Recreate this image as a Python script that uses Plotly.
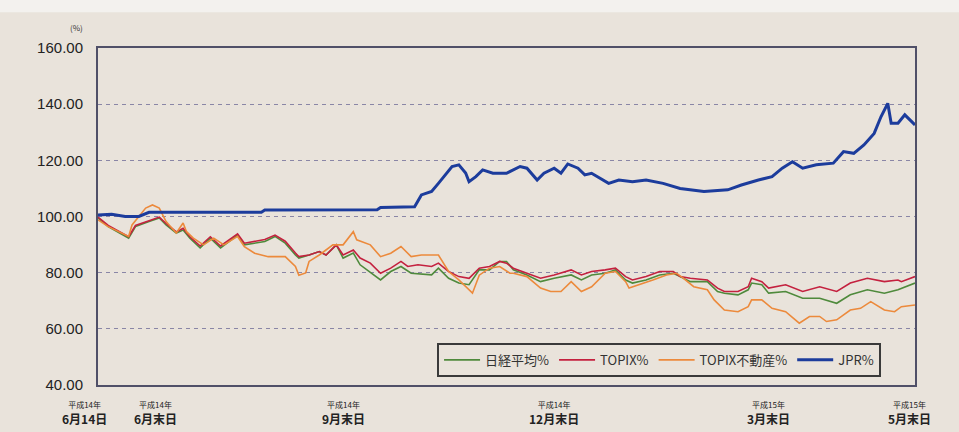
import plotly.graph_objects as go

# ---- data (x = trading-day index from 2002-06-14) ----
jpr_x = [0, 4, 8, 12, 15, 48, 49, 59, 82, 83, 93, 95, 98, 100, 103, 104, 106, 108, 109, 111,
         113, 116, 120, 124, 126, 129, 131, 134, 136, 138, 141, 143, 145, 150, 153, 157, 161,
         166, 171, 178, 185, 189, 194, 198, 201, 204, 207, 211, 216, 219, 222, 225, 228, 230,
         232, 233, 235, 237, 240]
jpr_y = [100.5, 100.8, 100.0, 100.0, 101.5, 101.5, 102.3, 102.4, 102.4, 103.2, 103.5, 107.7,
         108.9, 111.8, 116.6, 117.8, 118.4, 115.5, 112.4, 114.2, 116.6, 115.4, 115.4, 117.8,
         117.2, 113.0, 115.4, 117.2, 115.4, 118.7, 117.2, 114.8, 115.4, 111.8, 113.0, 112.4,
         113.0, 111.8, 110.0, 108.9, 109.5, 111.2, 113.0, 114.2, 117.2, 119.5, 117.2, 118.4,
         119.0, 123.1, 122.5, 125.5, 129.6, 135.5, 140.3, 133.2, 133.2, 136.2, 132.6]

nikkei_x = [0, 3, 9, 11, 15, 18, 20, 23, 25, 27, 30, 33, 36, 41, 43, 46, 49, 52, 55, 58, 59,
            62, 65, 67, 70, 72, 75, 77, 83, 86, 89, 92, 98, 100, 103, 106, 109, 112, 115, 118,
            120, 122, 126, 130, 134, 139, 142, 145, 149, 152, 155, 157, 161, 165, 169, 171,
            174, 179, 182, 184, 188, 191, 192, 195, 197, 202, 207, 212, 217, 221, 226, 231,
            235, 240]
nikkei_y = [99.5, 96.4, 92.3, 96.4, 98.2, 99.5, 97.0, 94.1, 95.2, 92.3, 88.8, 92.3, 88.8,
            93.4, 89.9, 90.6, 91.1, 92.9, 90.5, 86.3, 85.2, 86.3, 87.5, 86.3, 89.9, 85.2,
            87.0, 82.8, 77.4, 80.4, 82.2, 79.8, 79.2, 81.6, 78.0, 76.3, 75.7, 81.0, 81.0,
            84.0, 84.0, 81.0, 79.2, 76.8, 78.0, 79.2, 77.4, 79.2, 79.8, 81.0, 77.4, 76.3,
            77.4, 79.2, 79.8, 78.6, 76.8, 76.8, 73.3, 72.7, 72.1, 73.9, 76.3, 75.7, 72.7,
            73.3, 70.9, 70.9, 69.1, 72.1, 73.9, 72.7, 73.9, 76.3]

topix_x = [0, 3, 9, 11, 15, 18, 20, 23, 25, 27, 30, 33, 36, 41, 43, 46, 49, 52, 55, 58, 59,
           62, 65, 67, 70, 72, 75, 77, 80, 83, 86, 89, 91, 94, 98, 100, 103, 106, 109, 112,
           115, 118, 120, 122, 126, 130, 134, 139, 142, 145, 149, 152, 155, 157, 161, 165,
           169, 171, 174, 179, 182, 184, 188, 191, 192, 195, 197, 202, 207, 212, 217, 221,
           226, 231, 235, 236, 240]
topix_y = [99.8, 96.8, 92.8, 96.8, 98.5, 99.8, 97.5, 94.5, 95.8, 92.8, 89.5, 92.8, 89.5,
           93.8, 90.5, 91.2, 91.8, 93.4, 91.2, 87.0, 85.7, 86.3, 87.5, 86.3, 89.9, 86.3,
           88.1, 85.2, 83.4, 79.8, 81.6, 84.0, 82.2, 82.8, 82.2, 83.4, 80.4, 78.6, 78.0,
           81.6, 82.2, 84.0, 83.4, 81.6, 79.8, 78.0, 79.2, 81.0, 79.2, 80.4, 81.0, 81.6,
           78.6, 77.4, 78.6, 80.4, 80.4, 78.6, 78.0, 77.4, 74.5, 73.3, 73.3, 75.0, 78.0,
           76.8, 74.5, 75.7, 73.3, 75.0, 73.3, 76.3, 78.0, 76.8, 77.4, 76.8, 78.6]

reit_x = [0, 3, 9, 10, 14, 16, 18, 20, 23, 25, 26, 28, 31, 34, 37, 41, 43, 46, 50, 55, 58,
          59, 61, 62, 65, 69, 72, 75, 76, 80, 83, 86, 89, 92, 95, 100, 103, 106, 110, 112,
          115, 118, 121, 122, 126, 130, 133, 136, 139, 142, 145, 149, 152, 155, 156, 159,
          163, 167, 170, 172, 175, 179, 181, 184, 188, 191, 192, 195, 198, 202, 206, 209,
          212, 214, 217, 221, 224, 227, 231, 234, 236, 240]
reit_y = [98.8, 96.4, 92.9, 97.0, 103.0, 104.1, 103.0, 98.2, 94.1, 97.7, 94.6, 92.3, 89.9,
          92.3, 89.9, 92.9, 89.3, 86.9, 85.7, 85.7, 82.2, 79.1, 79.9, 84.0, 86.3, 89.9,
          89.9, 94.6, 91.7, 89.9, 85.7, 86.9, 89.3, 85.7, 86.3, 86.3, 80.4, 77.4, 72.7,
          79.1, 81.6, 82.2, 79.8, 79.8, 78.6, 74.5, 73.3, 73.3, 76.8, 73.3, 75.0, 79.8,
          80.4, 76.8, 74.5, 75.7, 77.4, 79.2, 79.8, 78.0, 75.0, 73.9, 70.3, 66.7, 66.1,
          67.9, 70.3, 70.3, 67.3, 66.1, 62.0, 64.4, 64.4, 62.6, 63.2, 66.7, 67.3, 69.7,
          66.7, 66.1, 67.9, 68.5]

series_names = ["日経平均%", "TOPIX%", "TOPIX不動産%", "JPR%"]
series_colors = ["#4f8a3c", "#c4213f", "#ec8a3c", "#1c3c9c"]

x_max = 240
tick_days = [-4, 17, 72, 134, 197, 238.5]
tick_era = ["平成14年", "平成14年", "平成14年", "平成14年", "平成15年", "平成15年"]
tick_date = ["6月14日", "6月末日", "9月末日", "12月末日", "3月末日", "5月末日"]

y_ticks = [40, 60, 80, 100, 120, 140, 160]

# ---- figure ----
fig = go.Figure()
data = [(nikkei_x, nikkei_y), (topix_x, topix_y), (reit_x, reit_y), (jpr_x, jpr_y)]
for (xs, ys), name, color in zip(data, series_names, series_colors):
    fig.add_trace(go.Scatter(
        x=xs, y=ys, name=name, mode="lines",
        line=dict(color=color, width=3 if name == "JPR%" else 1.6),
    ))

jp_font = "Noto Sans CJK JP, Noto Sans, sans-serif"

fig.update_layout(
    width=959, height=432,
    margin=dict(l=98, r=44, t=48, b=47),
    paper_bgcolor="#e9e3db",
    plot_bgcolor="#e9e3db",
    font=dict(family=jp_font, color="#222"),
    showlegend=True,
    legend=dict(
        orientation="h", x=0.415, y=0.125, xanchor="left", yanchor="top",
        bgcolor="rgba(0,0,0,0)", bordercolor="#3a3a3a", borderwidth=2,
        font=dict(size=13, family=jp_font, color="#333"),
        itemwidth=36,
    ),
    xaxis=dict(
        range=[0, x_max], showgrid=False, zeroline=False,
        showline=True, linecolor="#505068", linewidth=2, mirror=True,
        showticklabels=False, ticks="",
    ),
    yaxis=dict(
        range=[40, 160], tickvals=y_ticks,
        ticktext=[f"{v:.2f}" for v in y_ticks],
        tickfont=dict(family="Liberation Sans, Arial, sans-serif", size=15, color="#222"),
        ticklabelstandoff=10,
        showgrid=True, gridcolor="#8a86a6", gridwidth=1.3, griddash="4px,4px",
        zeroline=False, showline=True, linecolor="#505068", linewidth=2, mirror=True,
        ticks="",
    ),
    shapes=[dict(type="rect", xref="paper", yref="paper", x0=-0.2, x1=1.2,
                 y0=1.106, y1=1.2, fillcolor="#f3f1ee", line=dict(width=0), layer="below")],
)

fig.add_annotation(text="(%)", xref="paper", yref="paper", x=-0.026, y=1.06,
                   xanchor="center", yanchor="middle", showarrow=False,
                   font=dict(size=8, color="#333"))

for xv, era, dt in zip(tick_days, tick_era, tick_date):
    fig.add_annotation(
        x=xv / x_max, xref="paper", yref="paper", y=-0.035, yanchor="top", xanchor="center",
        showarrow=False, align="center",
        text=f"<span style='font-size:8px'>{era}</span><br><b>{dt}</b>",
        font=dict(size=12, color="#222", family=jp_font),
    )

fig.write_html("out.html")
